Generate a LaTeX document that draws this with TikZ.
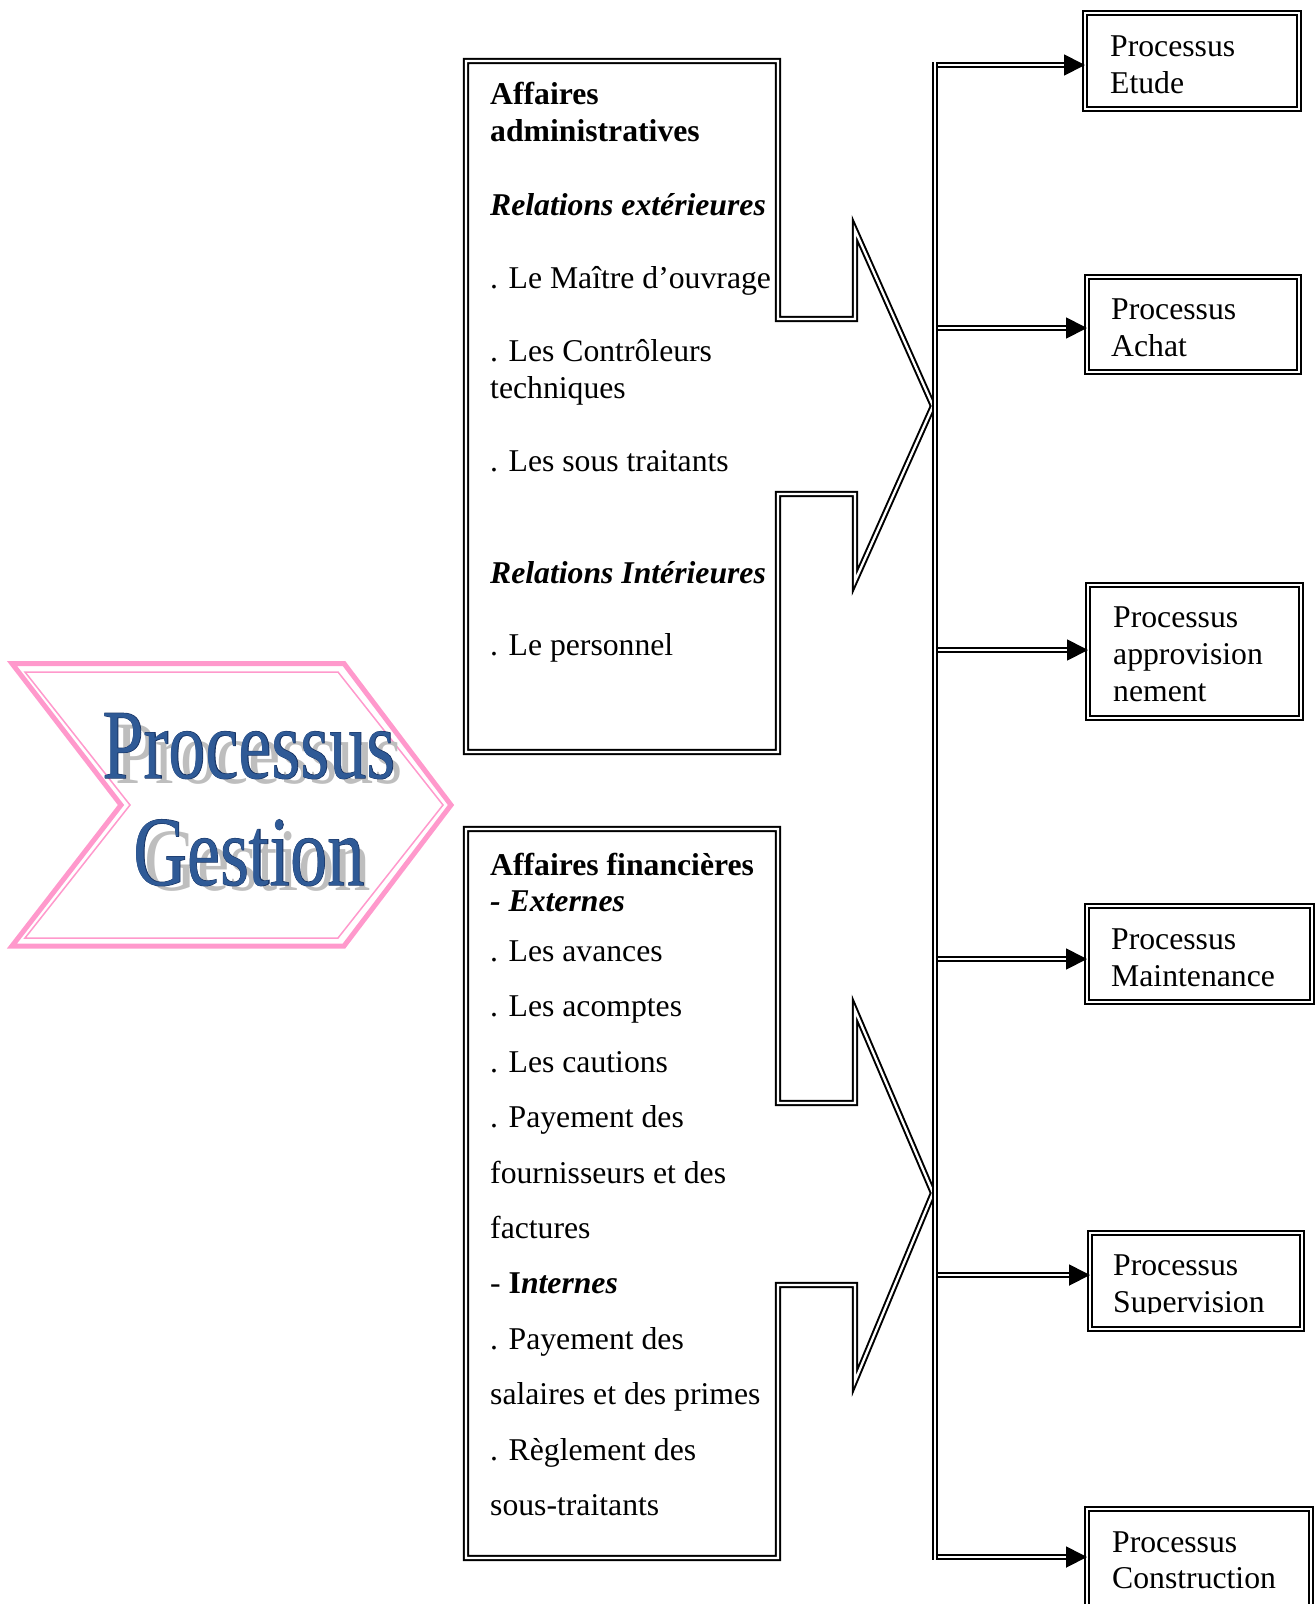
\documentclass[tikz,border=0pt]{standalone}
\usepackage{fontspec}
\usepackage{graphicx}
\setmainfont{Liberation Serif}
\newfontfamily\titleedgefont[FakeBold=1]{Liberation Serif}
\usetikzlibrary{arrows.meta}

\definecolor{chevronpink}{RGB}{255,153,204}
\definecolor{titleblue}{RGB}{47,90,150}
\definecolor{titleedgeblue}{RGB}{24,52,100}
\definecolor{titleshadow}{RGB}{190,190,190}

\tikzset{
  dblline/.style={draw=black, line width=2pt, double=white, double distance=2.3pt, line join=miter},
  procbox/.style={dblline, rectangle, inner sep=0pt, outer sep=0pt, fill=white},
  link/.style={draw=black, line width=1.8pt, double=white, double distance=2.4pt,
               -{Triangle[length=21pt,width=21pt]}},
  txt/.style={anchor=base west, inner sep=0pt, font=\fontsize{31.7}{37}\selectfont},
  titletxt/.style={anchor=base, inner sep=0pt, font=\fontsize{99}{99}\selectfont},
}

\begin{document}
\begin{tikzpicture}[x=1pt,y=-1pt]
\useasboundingbox (0,0) rectangle (1315,1604);

% ---------- chevron "Processus Gestion" ----------
\draw[chevronpink, line width=5pt, line join=miter]
  (12,663.5) -- (344,663.5) -- (451,805) -- (344,946) -- (12,946) -- (121,805) -- cycle;
\draw[chevronpink, line width=1.5pt, line join=miter]
  (25,672) -- (338,672) -- (443,805) -- (338,938) -- (25,938) -- (130,805) -- cycle;

\node[titletxt, text=titleshadow] (procshadow) at (259,783) {\scalebox{0.735}[0.9]{Processus}};
\node[titletxt, text=titleshadow] (gestshadow) at (258,890) {\scalebox{0.735}[0.9]{Gestion}};
\node[titletxt, text=titleedgeblue] (procedge) at (249,778) {\scalebox{0.75}[1]{\titleedgefont Processus}};
\node[titletxt, text=titleedgeblue] (gestedge) at (249,885) {\scalebox{0.75}[1]{\titleedgefont Gestion}};
\node[titletxt, text=titleblue] (proc) at (249,778) {\scalebox{0.75}[1]{Processus}};
\node[titletxt, text=titleblue] (gest) at (249,885) {\scalebox{0.75}[1]{Gestion}};

% ---------- administrative callout ----------
\draw[dblline, fill=white]
  (466,61) -- (778,61) -- (778,319) -- (855,319) -- (855,230) -- (933,406)
  -- (855,581) -- (855,494) -- (778,494) -- (778,752) -- (466,752) -- cycle;
\coordinate (admintip) at (933,406);

\node[txt] (a1) at (490,104) {\textbf{Affaires}};
\node[txt] (a2) at (490,141) {\textbf{administratives}};
\node[txt] (a3) at (490,215) {\textbf{\textit{Relations extérieures}}};
\node[txt] (a4) at (490,288) {. Le Maître d’ouvrage};
\node[txt] (a5) at (490,361) {. Les Contrôleurs};
\node[txt] (a6) at (490,398) {techniques};
\node[txt] (a7) at (490,471) {. Les sous traitants};
\node[txt] (a8) at (490,583) {\textbf{\textit{Relations Intérieures}}};
\node[txt] (a9) at (490,655) {. Le personnel};

% ---------- financial callout ----------
\draw[dblline, fill=white]
  (466,829) -- (778,829) -- (778,1103) -- (855,1103) -- (855,1010) -- (933,1193)
  -- (855,1381) -- (855,1285) -- (778,1285) -- (778,1558) -- (466,1558) -- cycle;
\coordinate (fintip) at (933,1193);

\node[txt] (f1) at (490,875) {\textbf{Affaires financières}};
\node[txt] (f2) at (490,911) {\textbf{\textit{- Externes}}};
\node[txt] (f3) at (490,961) {. Les avances};
\node[txt] (f4) at (490,1016) {. Les acomptes};
\node[txt] (f5) at (490,1072) {. Les cautions};
\node[txt] (f6) at (490,1127) {. Payement des};
\node[txt] (f7) at (490,1183) {fournisseurs et des};
\node[txt] (f8) at (490,1238) {factures};
\node[txt] (f9) at (490,1293) {- \textbf{I\textit{nternes}}};
\node[txt] (f10) at (490,1349) {. Payement des};
\node[txt] (f11) at (490,1404) {salaires et des primes};
\node[txt] (f12) at (490,1460) {. Règlement des};
\node[txt] (f13) at (490,1515) {sous-traitants};

% ---------- vertical bus ----------
\coordinate (bustop) at (935,62);
\coordinate (busbot) at (935,1560);
\draw[dblline] (bustop) -- (busbot);

% ---------- process boxes ----------
\node[procbox, minimum width=214pt, minimum height=96pt] (etude) at (1192,61) {};
\node[txt] (etude1) at (1110,56) {Processus};
\node[txt] (etude2) at (1110,93) {Etude};

\node[procbox, minimum width=212pt, minimum height=95pt] (achat) at (1193,324.5) {};
\node[txt] (achat1) at (1111,319) {Processus};
\node[txt] (achat2) at (1111,356) {Achat};

\node[procbox, minimum width=213pt, minimum height=133pt] (appro) at (1194.5,651.5) {};
\node[txt] (appro1) at (1113,627) {Processus};
\node[txt] (appro2) at (1113,664) {approvision};
\node[txt] (appro3) at (1113,701) {nement};

\node[procbox, minimum width=225pt, minimum height=96pt] (maint) at (1199.5,954) {};
\node[txt] (maint1) at (1111,949) {Processus};
\node[txt] (maint2) at (1111,986) {Maintenance};

\node[procbox, minimum width=212pt, minimum height=96pt] (superv) at (1196,1281) {};
\begin{scope}
  \clip (1092,1235) rectangle (1300,1313);
  \node[txt] (superv1) at (1113,1275) {Processus};
  \node[txt] (superv2) at (1113,1312) {Supervision};
\end{scope}

\node[procbox, minimum width=224pt, minimum height=104pt] (constr) at (1199,1561) {};
\node[txt] (constr1) at (1112,1552) {Processus};
\node[txt] (constr2) at (1112,1588) {Construction};

% ---------- links from the bus ----------
\coordinate (s1) at (938,65);
\coordinate (s2) at (938,328);
\coordinate (s3) at (938,650);
\coordinate (s4) at (938,959);
\coordinate (s5) at (938,1275);
\coordinate (s6) at (938,1557);
\draw[link] (s1) -- (s1 -| etude.west);
\draw[link] (s2) -- (s2 -| achat.west);
\draw[link] (s3) -- (s3 -| appro.west);
\draw[link] (s4) -- (s4 -| maint.west);
\draw[link] (s5) -- (s5 -| superv.west);
\draw[link] (s6) -- (s6 -| constr.west);

\end{tikzpicture}
\end{document}
